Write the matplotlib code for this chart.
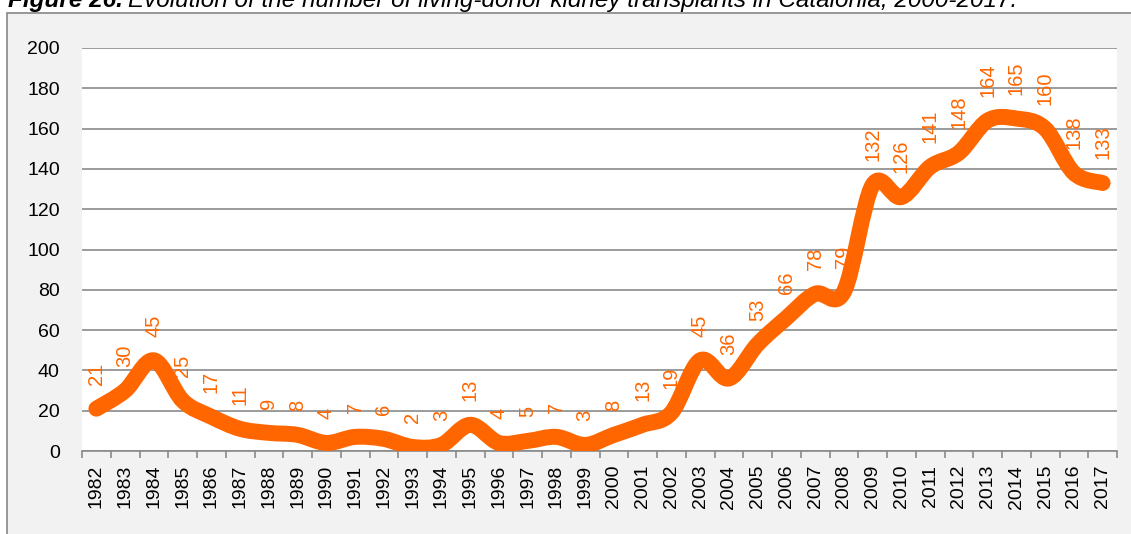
import numpy as np
import matplotlib.pyplot as plt
from matplotlib.path import Path
from matplotlib.patches import PathPatch, Rectangle

plt.rcParams['font.family'] = ['Liberation Sans', 'DejaVu Sans']

years = [str(y) for y in range(1982, 2018)]
transplants = [21, 30, 45, 25, 17, 11, 9, 8, 4, 7, 6, 2, 3, 13, 4, 5, 7, 3, 8, 13,
               19, 45, 36, 53, 66, 78, 79, 132, 126, 141, 148, 164, 165, 160, 138, 133]

orange = '#FF6600'
grid_col = '#8a8a8a'

fig = plt.figure(figsize=(11.31, 5.34), dpi=100)
fig.patch.set_facecolor('white')

# grey frame around the chart
fig.patches.append(Rectangle((7 / 1131, -0.05), 1.1, 1 - 13 / 534 + 0.05,
                             transform=fig.transFigure, facecolor='#f2f2f2',
                             edgecolor='#868686', linewidth=1.2, zorder=-10))

ax = fig.add_axes([82 / 1131, 1 - 451 / 534, 1035 / 1131, 403 / 534])
ax.set_facecolor('white')

x = np.arange(len(years))
y = np.array(transplants, dtype=float)

# smoothed line (Catmull-Rom as bezier, like Excel's smoothing)
verts = [(x[0], y[0])]
codes = [Path.MOVETO]
n = len(x)
for i in range(n - 1):
    p0 = np.array([x[max(i - 1, 0)], y[max(i - 1, 0)]])
    p1 = np.array([x[i], y[i]])
    p2 = np.array([x[i + 1], y[i + 1]])
    p3 = np.array([x[min(i + 2, n - 1)], y[min(i + 2, n - 1)]])
    c1 = p1 + (p2 - p0) / 6
    c2 = p2 - (p3 - p1) / 6
    verts += [tuple(c1), tuple(c2), tuple(p2)]
    codes += [Path.CURVE4] * 3
ax.add_patch(PathPatch(Path(verts, codes), facecolor='none', edgecolor=orange,
                       linewidth=11.5, capstyle='round', joinstyle='round', zorder=3))

for xi, v in zip(x, transplants):
    ax.annotate(str(v), (xi, v), xytext=(0, 17), textcoords='offset points',
                rotation=90, ha='center', va='bottom', color=orange, fontsize=14.5,
                zorder=4)

ax.set_xlim(-0.5, n - 0.5)
ax.set_ylim(0, 200)
ax.set_yticks(range(0, 201, 20))
ax.yaxis.grid(True, color=grid_col, linewidth=1.2)
ax.set_axisbelow(True)
for s in ['top', 'right', 'left']:
    ax.spines[s].set_visible(False)
ax.spines['bottom'].set_color(grid_col)
ax.spines['bottom'].set_linewidth(1.2)

ax.set_xticks(x)
ax.set_xticklabels(years, rotation=90, fontsize=14)
ax.set_xticks(np.arange(-0.5, n, 1), minor=True)
ax.tick_params(axis='x', which='major', length=0, pad=10)
ax.tick_params(axis='x', which='minor', length=5, color=grid_col, width=1.2)
ax.tick_params(axis='y', length=0, pad=16, labelsize=14)

# title: bold italic prefix followed by italic text
t1 = fig.text(8 / 1131, 1 - 7 / 534, 'Figure 26.', fontsize=17.5, fontweight='bold',
              fontstyle='italic', va='baseline', ha='left')
fig.canvas.draw()
bb = t1.get_window_extent(fig.canvas.get_renderer())
fig.text(bb.x1 / fig.bbox.width + 5 / 1131, 1 - 7 / 534,
         'Evolution of the number of living-donor kidney transplants in Catalonia, 2000-2017.',
         fontsize=17.5, fontstyle='italic', va='baseline', ha='left')

fig.savefig('out.png', dpi=100)
